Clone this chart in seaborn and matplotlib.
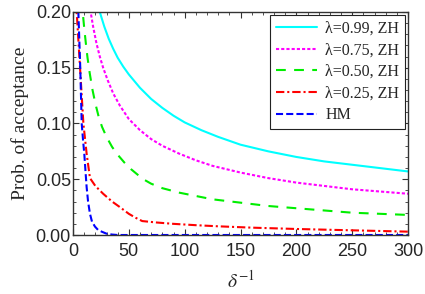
import numpy as np
import pandas as pd
import matplotlib
matplotlib.use("Agg")
import matplotlib.pyplot as plt
from matplotlib.ticker import MultipleLocator, FormatStrFormatter
import seaborn as sns

# values
x_099 = [20, 24, 28, 32, 36, 40, 45, 50, 60, 70, 80, 90, 100, 115, 130, 150, 175,
         200, 225, 250, 275, 300]
y_099 = [0.215, 0.200, 0.187, 0.176, 0.167, 0.159, 0.151, 0.144, 0.132, 0.122,
         0.114, 0.107, 0.101, 0.094, 0.088, 0.081, 0.075, 0.070, 0.066, 0.063,
         0.060, 0.057]

x_075 = [13, 15.8, 18, 21, 24, 27, 31, 36, 42, 50, 60, 70, 80, 95, 110, 125, 150,
         175, 200, 225, 250, 275, 300]
y_075 = [0.222, 0.200, 0.187, 0.172, 0.160, 0.150, 0.139, 0.127, 0.116, 0.104,
         0.094, 0.086, 0.080, 0.073, 0.067, 0.062, 0.056, 0.051, 0.047, 0.044,
         0.041, 0.039, 0.037]

x_050 = [7.5, 8.7, 10, 11.5, 13, 15, 17.5, 20, 23, 26, 30, 35, 40, 46, 52, 58, 63,
         70, 80, 95, 110, 125, 150, 175, 200, 225, 250, 275, 300]
y_050 = [0.215, 0.200, 0.186, 0.172, 0.159, 0.145, 0.130, 0.118, 0.106, 0.097,
         0.088, 0.079, 0.072, 0.065, 0.059, 0.054, 0.050, 0.046, 0.042, 0.038,
         0.035, 0.032, 0.029, 0.026, 0.024, 0.022, 0.020, 0.019, 0.018]

x_025 = [3, 3.3, 6.3, 9.3, 12.2, 15.2, 20, 27, 35, 42, 50, 56, 62, 75, 90, 110,
         130, 160, 200, 250, 300]
y_025 = [0.210, 0.200, 0.150, 0.100, 0.073, 0.051, 0.044, 0.037, 0.030, 0.025,
         0.019, 0.0155, 0.0125, 0.0112, 0.0100, 0.0088, 0.0078, 0.0066, 0.0054,
         0.0042, 0.003]

x_hm = [4.5, 4.8, 6.5, 7.8, 9, 10.1, 11.2, 12.2, 13.5, 15.2, 17, 19.7, 22.5, 25.7,
        30, 35, 40, 300]
y_hm = [0.210, 0.200, 0.150, 0.100, 0.085, 0.073, 0.057, 0.043, 0.030, 0.019,
        0.012, 0.0075, 0.0045, 0.003, 0.0012, 0.0004, 0.0, 0.0]

labels = ["λ=0.99, ZH", "λ=0.75, ZH", "λ=0.50, ZH", "λ=0.25, ZH", "HM"]
colors = ["#00ffff", "#ff00ff", "#00ee00", "#ff0000", "#0000ff"]
styles = ["-", (0, (1.5, 1.0)), (0, (4.7, 4.0)), (0, (4.0, 1.4, 1.0, 1.4)), (0, (3.4, 1.5))]

series = [(x_099, y_099), (x_075, y_075), (x_050, y_050), (x_025, y_025), (x_hm, y_hm)]

sns.set_theme(style="ticks")
plt.rcParams['font.family'] = ['Liberation Sans', 'DejaVu Sans']
plt.rcParams['mathtext.fontset'] = 'stix'

fig = plt.figure(figsize=(4.25, 2.94), dpi=100)
ax = fig.add_axes([73 / 425, 1 - 235 / 294, 335 / 425, 223 / 294])

for (xs, ys), lab, col, ls in zip(series, labels, colors, styles):
    df = pd.DataFrame({"x": xs, "y": ys})
    sns.lineplot(data=df, x="x", y="y", color=col, linestyle=ls, linewidth=1.5,
                 label=lab, ax=ax, sort=False)

ax.set_xlim(0, 300)
ax.set_ylim(0, 0.2)
ax.xaxis.set_major_locator(MultipleLocator(50))
ax.xaxis.set_minor_locator(MultipleLocator(10))
ax.yaxis.set_major_locator(MultipleLocator(0.05))
ax.yaxis.set_minor_locator(MultipleLocator(0.01))
ax.yaxis.set_major_formatter(FormatStrFormatter('%.2f'))
ax.tick_params(which='both', direction='in', top=True, right=True, labelsize=13,
               color='#333333')
ax.tick_params(which='major', length=4, width=0.8)
ax.tick_params(which='minor', length=2, width=0.6)
ax.tick_params(axis='x', pad=6)
ax.tick_params(axis='y', pad=1.5)
for sp in ax.spines.values():
    sp.set_linewidth(1.0)
    sp.set_color('#333333')

ax.set_xlabel(r'$\delta^{-1}$', fontsize=14, labelpad=7)
ax.set_ylabel('Prob. of acceptance', fontsize=14, family=['Liberation Serif', 'DejaVu Serif'],
              labelpad=5)

leg = ax.legend(loc='upper right', frameon=True, fancybox=False,
                edgecolor='#222222', framealpha=1, borderaxespad=0.2,
                handlelength=2.6, handletextpad=0.5, labelspacing=0.35,
                borderpad=0.35, prop={'family': ['Liberation Serif', 'DejaVu Serif'], 'size': 11.5})
leg.get_frame().set_linewidth(0.8)

fig.savefig("out.png", dpi=100)
